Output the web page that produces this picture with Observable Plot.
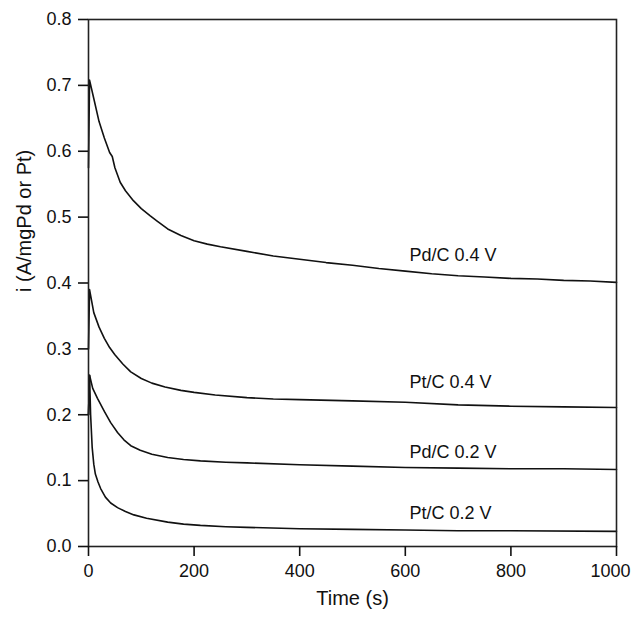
<!DOCTYPE html>
<html>
<head>
<meta charset="utf-8">
<script src="https://cdn.jsdelivr.net/npm/d3@7"></script>
<script src="https://cdn.jsdelivr.net/npm/@observablehq/plot@0.6"></script>
<style>
  html, body { margin: 0; padding: 0; background: #fff; }
  svg { display: block; }
</style>
</head>
<body>
<div id="chart"></div>
<script>
// ---- Data ----
const pdC04_t = [0, 2, 10, 20, 30, 40, 45, 50, 60, 70, 85, 100, 117, 130, 150, 175, 200, 225, 250, 300, 350, 400, 450, 500, 550, 600, 650, 700, 750, 800, 850, 900, 950, 1000];
const pdC04_i = [0.575, 0.708, 0.68, 0.645, 0.62, 0.598, 0.592, 0.575, 0.553, 0.54, 0.525, 0.513, 0.502, 0.494, 0.482, 0.472, 0.464, 0.459, 0.455, 0.448, 0.441, 0.436, 0.431, 0.427, 0.422, 0.418, 0.414, 0.411, 0.409, 0.407, 0.406, 0.404, 0.403, 0.401];

const ptC04_t = [0, 2, 10, 20, 30, 40, 50, 65, 80, 100, 120, 145, 175, 200, 240, 300, 350, 400, 500, 600, 700, 800, 900, 1000];
const ptC04_i = [0.30, 0.39, 0.355, 0.333, 0.316, 0.302, 0.291, 0.277, 0.265, 0.255, 0.248, 0.242, 0.237, 0.234, 0.230, 0.226, 0.224, 0.223, 0.221, 0.219, 0.215, 0.213, 0.212, 0.211];

const pdC02_t = [0, 2, 8, 17, 30, 42, 55, 67, 80, 98, 120, 150, 180, 212, 260, 300, 400, 500, 600, 700, 800, 900, 1000];
const pdC02_i = [0.20, 0.26, 0.24, 0.225, 0.205, 0.188, 0.173, 0.162, 0.153, 0.146, 0.140, 0.135, 0.132, 0.130, 0.128, 0.127, 0.124, 0.122, 0.120, 0.119, 0.118, 0.118, 0.117];

const ptC02_t = [0, 2, 4, 7, 10, 13, 18, 23, 32, 42, 55, 70, 86, 110, 150, 180, 212, 260, 300, 400, 500, 600, 700, 800, 1000];
const ptC02_i = [0.20, 0.26, 0.20, 0.15, 0.125, 0.11, 0.098, 0.088, 0.075, 0.066, 0.059, 0.053, 0.048, 0.043, 0.037, 0.034, 0.032, 0.030, 0.029, 0.027, 0.026, 0.025, 0.024, 0.024, 0.023];

const seriesNames = ["Pd/C 0.4 V", "Pt/C 0.4 V", "Pd/C 0.2 V", "Pt/C 0.2 V"];
const labelT = [608, 608, 608, 608];
const labelI = [0.442, 0.249, 0.143, 0.050];

const xTicks = [0, 200, 400, 600, 800, 1000];
const yTicks = [0, 0.1, 0.2, 0.3, 0.4, 0.5, 0.6, 0.7, 0.8];

// ---- Build tables ----
const seriesT = [pdC04_t, ptC04_t, pdC02_t, ptC02_t];
const seriesI = [pdC04_i, ptC04_i, pdC02_i, ptC02_i];
const rows = [];
seriesNames.forEach((name, k) => {
  seriesT[k].forEach((t, j) => rows.push({ series: name, t, i: seriesI[k][j] }));
});
const labels = seriesNames.map((name, k) => ({ name, t: labelT[k], i: labelI[k] }));

const font = "'Liberation Sans', Arial, Helvetica, sans-serif";
const lastX = xTicks[xTicks.length - 1];

const chart = Plot.plot({
  width: 631,
  height: 617,
  marginLeft: 88,
  marginRight: 15,
  marginTop: 19,
  marginBottom: 71,
  style: { fontFamily: font, fontSize: "18px", color: "#111", background: "#fff" },
  x: { domain: [0, 1000] },
  y: { domain: [0, 0.8] },
  marks: [
    Plot.line(rows, { x: "t", y: "i", z: "series", stroke: "#111", strokeWidth: 1.6 }),
    Plot.frame({ stroke: "#222", strokeWidth: 1.6 }),
    Plot.axisX({ ticks: xTicks, tickSize: 10, tickPadding: 8, strokeWidth: 1.6, label: null, fontSize: 18, tickFormat: d3.format("d"), text: null }),
    Plot.axisX({ ticks: xTicks.filter(v => v !== lastX), tickSize: 0, tickPadding: 18, label: null, fontSize: 18, tickFormat: d3.format("d") }),
    Plot.axisX({ ticks: [lastX], tickSize: 0, tickPadding: 18, label: null, fontSize: 18, tickFormat: d3.format("d"), dx: -6 }),
    Plot.axisY({ ticks: yTicks, tickSize: 10, tickPadding: 7, strokeWidth: 1.6, label: null, fontSize: 18, tickFormat: d3.format(".1f") }),
    Plot.text(labels, { x: "t", y: "i", text: "name", textAnchor: "start", fontSize: 18, fill: "#111" }),
    Plot.text(["Time (s)"], { frameAnchor: "bottom", dy: 58, fontSize: 20, fill: "#111" }),
    Plot.text(["i (A/mgPd or Pt)"], { frameAnchor: "left", dx: -64, dy: 9, rotate: -90, fontSize: 20, fill: "#111" })
  ]
});
document.getElementById("chart").appendChild(chart);
</script>
</body>
</html>
